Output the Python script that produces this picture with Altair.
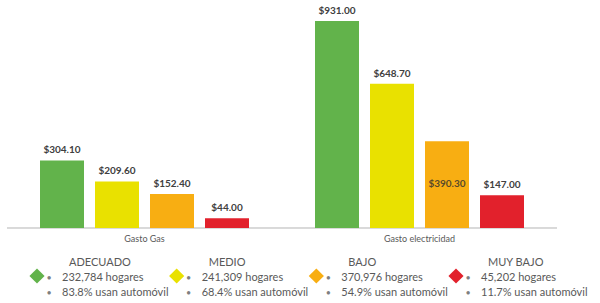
import altair as alt
import pandas as pd

categories = ["Gasto Gas", "Gasto electricidad"]
levels = ["ADECUADO", "MEDIO", "BAJO", "MUY BAJO"]
gasto_gas = [304.10, 209.60, 152.40, 44.00]
gasto_elec = [931.00, 648.70, 390.30, 147.00]
hogares = ["232,784", "241,309", "370,976", "45,202"]
pct_auto = ["83.8%", "68.4%", "54.9%", "11.7%"]
colors = ["#62B34B", "#E9E100", "#F8AE12", "#E2212C"]

FONT = "Lato"

bars_df = pd.DataFrame({
    "cat": [categories[0]] * len(levels) + [categories[1]] * len(levels),
    "level": levels * 2,
    "value": gasto_gas + gasto_elec,
})

rows = []
for lv, h, p in zip(levels, hogares, pct_auto):
    rows.append({"level": lv, "row": "title", "txt": lv})
    rows.append({"level": lv, "row": "l1", "txt": f"{h} hogares"})
    rows.append({"level": lv, "row": "l2", "txt": f"{p} usan automóvil"})
legend_df = pd.DataFrame(rows)

color = alt.Color("level:N", scale=alt.Scale(domain=levels, range=colors), legend=None)
x_enc = alt.X("cat:N", sort=categories,
              scale=alt.Scale(paddingInner=0, paddingOuter=0),
              axis=alt.Axis(title=None, labelAngle=0, ticks=False, domain=False,
                            labelColor="#595959", labelFontSize=9, labelPadding=6,
                            labelFont=FONT, grid=False, orient="bottom"))
xo_enc = alt.XOffset("level:N", sort=levels, scale=alt.Scale(paddingInner=0.2, paddingOuter=0.6))
y_scale = alt.Scale(domain=[0, 931], nice=False, zero=True)
y_enc = alt.Y("value:Q", scale=y_scale, axis=None)

base = alt.Chart(bars_df)
bars = base.mark_bar().encode(x=x_enc, xOffset=xo_enc, y=y_enc, color=color)
baseline = base.mark_rule(color="#D9D9D9", strokeWidth=1).encode(
    y=alt.Y(datum=0, scale=y_scale, axis=None))
inside_cond = f"datum.cat == '{categories[1]}' && datum.level == '{levels[2]}'"
labels = base.mark_text(baseline="bottom", dy=-5, fontSize=10, fontWeight="bold",
                        color="#404040", font=FONT).encode(
    x=x_enc, xOffset=xo_enc, y=y_enc,
    text=alt.Text("value:Q", format="$.2f"),
).transform_filter(f"!({inside_cond})")
labels_in = base.mark_text(baseline="middle", dy=43, fontSize=10, fontWeight="bold",
                           color="#5a4a2a", font=FONT).encode(
    x=x_enc, xOffset=xo_enc, y=y_enc,
    text=alt.Text("value:Q", format="$.2f"),
).transform_filter(inside_cond)

top = alt.layer(baseline, bars, labels, labels_in)

lx = alt.X("level:N", sort=levels, scale=alt.Scale(type="point", range=[55, 474], padding=0), axis=None)
ly = alt.Y("row:N", sort=["title", "l1", "l2"],
           scale=alt.Scale(type="point", domain=["title", "l1", "l2"], range=[242, 272], padding=0),
           axis=None)
lbase = alt.Chart(legend_df)
diam = lbase.mark_point(shape="diamond", filled=True, size=230, opacity=1, xOffset=-25, yOffset=-2).encode(
    x=lx, y=ly, color=color).transform_filter("datum.row == 'l1'")
bullets = lbase.mark_text(text="•", dx=-13, fontSize=9, color="#7F7F7F", font=FONT).encode(
    x=lx, y=ly).transform_filter("datum.row != 'title'")
ltext = lbase.mark_text(align="left", fontSize=11, color="#595959", font=FONT).encode(
    x=lx, y=ly, text="txt:N").transform_filter("datum.row != 'title'")
ltitle = lbase.mark_text(align="left", dx=7, fontSize=11, color="#595959", font=FONT).encode(
    x=lx, y=ly, text="txt:N").transform_filter("datum.row == 'title'")
legend = alt.layer(diam, bullets, ltext, ltitle)

chart = alt.layer(top, legend).resolve_scale(x="independent", y="independent", color="shared").resolve_axis(
    x="independent", y="independent").properties(
    width=550, height=207,
    padding={"left": 7, "top": 21, "right": 43, "bottom": 75},
    autosize=alt.AutoSizeParams(type="none"),
    background="white",
).configure_view(stroke=None, strokeWidth=0).configure_axis(grid=False)

chart.save("out.html", embed_options={"renderer": "svg", "actions": False})
